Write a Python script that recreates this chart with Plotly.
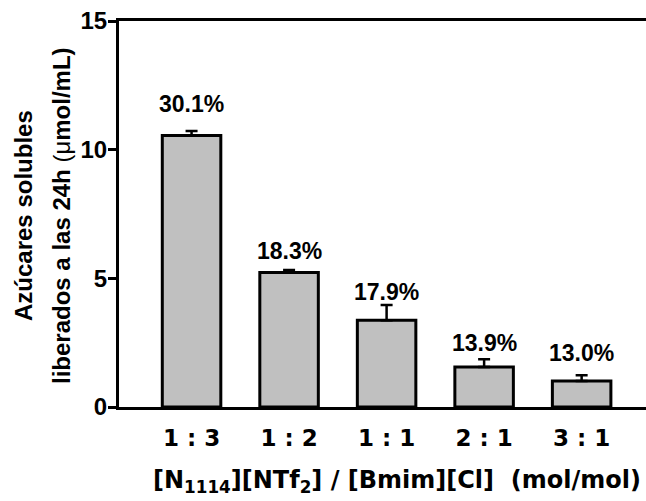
import plotly.graph_objects as go

categories = ["1 : 3", "1 : 2", "1 : 1", "2 : 1", "3 : 1"]
values = [10.55, 5.23, 3.37, 1.55, 1.01]
errors = [0.18, 0.09, 0.59, 0.31, 0.22]
pct_labels = ["30.1%", "18.3%", "17.9%", "13.9%", "13.0%"]
label_gap_px = [27, 19, 13, 16, 22]

W, H = 646, 501
ML, MR, MT, MB = 119, 0, 21, 94
FONT = "Liberation Sans, Arial, sans-serif"
WIDE = "DejaVu Sans, Liberation Sans, sans-serif"

fig = go.Figure()
fig.add_trace(go.Bar(
    x=list(range(len(categories))),
    y=values,
    width=0.6,
    marker=dict(color="#c0c0c0", line=dict(color="black", width=3)),
    error_y=dict(type="data", array=errors, arrayminus=[0] * len(errors),
                 symmetric=False, color="black", thickness=2.5, width=6),
    showlegend=False,
))

for i, (v, e, t, g) in enumerate(zip(values, errors, pct_labels, label_gap_px)):
    fig.add_annotation(x=i, y=v + e, text=f"<b>{t}</b>", showarrow=False,
                       xref="x", yref="y", yanchor="middle", yshift=g,
                       font=dict(family=FONT, size=23, color="black"))

# y-axis title as two rotated lines
fig.add_annotation(xref="paper", yref="paper", x=0, y=0.5, xshift=-(ML - 23),
                   yshift=-2,
                   text="<b>Azúcares solubles</b>", textangle=-90, showarrow=False,
                   xanchor="center", yanchor="middle",
                   font=dict(family=FONT, size=24, color="black"))
fig.add_annotation(xref="paper", yref="paper", x=0, y=0.5, xshift=-(ML - 61),
                   yshift=-2,
                   text="<b>liberados a las 24h </b>(μ<b>mol/mL)</b>", textangle=-90,
                   showarrow=False, xanchor="center", yanchor="middle",
                   font=dict(family=FONT, size=24, color="black"))

# x-axis title
fig.add_annotation(xref="paper", yref="paper", x=0.5, y=0, xshift=14, yshift=-57,
                   text="<b>[N<sub>1114</sub>][NTf<sub>2</sub>] / [Bmim][Cl]  (mol/mol)</b>",
                   showarrow=False, xanchor="center", yanchor="top",
                   font=dict(family=WIDE, size=24, color="black"))

fig.update_layout(
    width=W, height=H,
    margin=dict(l=ML, r=MR, t=MT, b=MB, pad=0),
    paper_bgcolor="white", plot_bgcolor="white",
    font=dict(family=FONT, color="black"),
    xaxis=dict(
        range=[-0.744, 4.66],
        tickmode="array", tickvals=list(range(len(categories))),
        ticktext=[f"<b>{c}</b>" for c in categories],
        tickfont=dict(family=WIDE, size=23, color="black"),
        showline=True, linecolor="black", linewidth=3, mirror=True,
        ticks="", ticklabelstandoff=8, showgrid=False, zeroline=False,
    ),
    yaxis=dict(
        range=[0, 15], tickvals=[0, 5, 10, 15],
        ticktext=["<b>0</b>", "<b>5</b>", "<b>10</b>", "<b>15</b>"],
        tickfont=dict(family=FONT, size=24, color="black"),
        showline=True, linecolor="black", linewidth=3, mirror=False,
        ticks="outside", ticklen=8, tickwidth=2.5, tickcolor="black",
        ticklabelstandoff=-4,
        showgrid=False, zeroline=False,
    ),
)

fig.write_html("out.html")
